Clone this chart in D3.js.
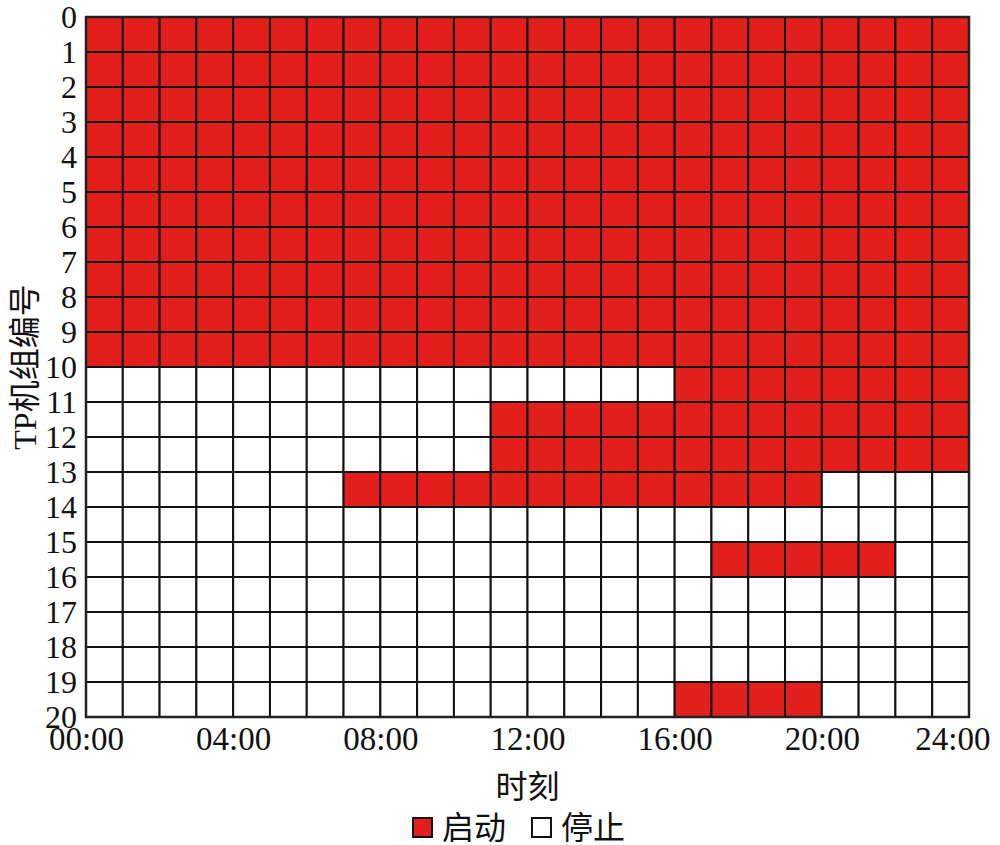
<!DOCTYPE html>
<html><head><meta charset="utf-8">
<script src="https://cdn.jsdelivr.net/npm/d3@7"></script>
<style>
html,body{margin:0;padding:0;background:#fff;}
svg{display:block;}
text{font-family:"Liberation Serif","Noto Sans CJK SC",serif;fill:#111;}
</style></head>
<body>
<svg id="c" width="1000" height="845"></svg>
<script>
// hours (columns) and unit rows
const hours = d3.range(0, 24);
const unitTicks = d3.range(0, 21);
const hourTicks = [0, 4, 8, 12, 16, 20, 24];
const hourTickLabels = ["00:00", "04:00", "08:00", "12:00", "16:00", "20:00", "24:00"];
// status per unit row, one char per hour: 1 = 启动 (on), 0 = 停止 (off)
const unitStatus = [
  "111111111111111111111111",
  "111111111111111111111111",
  "111111111111111111111111",
  "111111111111111111111111",
  "111111111111111111111111",
  "111111111111111111111111",
  "111111111111111111111111",
  "111111111111111111111111",
  "111111111111111111111111",
  "111111111111111111111111",
  "000000000000000011111111",
  "000000000001111111111111",
  "000000000001111111111111",
  "000000011111111111110000",
  "000000000000000000000000",
  "000000000000000001111100",
  "000000000000000000000000",
  "000000000000000000000000",
  "000000000000000000000000",
  "000000000000000011110000"
];
const legendLabels = ["启动", "停止"];
const xTitle = "时刻";
const yTitle = "TP机组编号";

const onColor = "#e31f1b", offColor = "#ffffff";
const svg = d3.select("#c");
const x = d3.scaleLinear().domain([0, 24]).range([86, 969]);
const y = d3.scaleLinear().domain([0, 20]).range([17, 717]);

const cells = [];
unitStatus.forEach((row, r) => hours.forEach(h => cells.push({r, h, on: row[h] === "1"})));

svg.append("g").selectAll("rect").data(cells).join("rect")
  .attr("x", d => x(d.h)).attr("y", d => y(d.r))
  .attr("width", d => x(d.h + 1) - x(d.h))
  .attr("height", d => y(d.r + 1) - y(d.r))
  .attr("fill", d => d.on ? onColor : offColor)
  .attr("stroke", "#111").attr("stroke-width", 2);

svg.append("rect").attr("x", x(0)).attr("y", y(0))
  .attr("width", x(24) - x(0)).attr("height", y(20) - y(0))
  .attr("fill", "none").attr("stroke", "#222").attr("stroke-width", 2.5);

// y axis labels
const yAxis = d3.axisLeft(y).tickValues(unitTicks).tickSize(0).tickPadding(9).tickFormat(d3.format("d"));
const gy = svg.append("g").attr("transform", `translate(${x(0)},0)`).call(yAxis);
gy.select(".domain").remove();
gy.selectAll("text").attr("font-size", 32).attr("font-family", "Liberation Serif").attr("fill", "#111").attr("dy", "0.34em");

// x axis labels
const xAxis = d3.axisBottom(x).tickValues(hourTicks).tickSize(0).tickPadding(10)
  .tickFormat((d, i) => hourTickLabels[i]);
const gx = svg.append("g").attr("transform", `translate(0,${y(20)})`).call(xAxis);
gx.select(".domain").remove();
gx.selectAll("text").attr("font-size", 33).attr("font-family", "Liberation Serif").attr("fill", "#111").attr("dy", "0.71em");
// last label kept inside the canvas, as in the reference
gx.selectAll(".tick").filter(d => d === 24).select("text")
  .attr("text-anchor", "end").attr("x", 990 - x(24));

// titles
svg.append("text").attr("x", (x(0) + x(24)) / 2).attr("y", 798).attr("text-anchor", "middle")
  .attr("font-size", 32).text(xTitle);
svg.append("text").attr("transform", `translate(36,${(y(0) + y(20)) / 2}) rotate(-90)`)
  .attr("text-anchor", "middle").attr("font-size", 32).text(yTitle);

// legend
const lg = svg.append("g");
const items = [{label: legendLabels[0], c: onColor, x: 413}, {label: legendLabels[1], c: offColor, x: 532}];
items.forEach(it => {
  lg.append("rect").attr("x", it.x).attr("y", 818).attr("width", 19).attr("height", 19)
    .attr("fill", it.c).attr("stroke", "#111").attr("stroke-width", 2);
  lg.append("text").attr("x", it.x + 29).attr("y", 839).attr("font-size", 32).text(it.label);
});
</script>
</body></html>
